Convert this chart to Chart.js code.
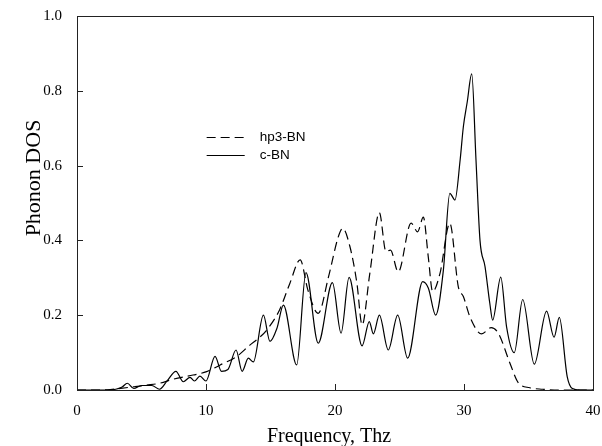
<!DOCTYPE html>
<html>
<head>
<meta charset="utf-8">
<script src="https://cdn.jsdelivr.net/npm/chart.js@4/dist/chart.umd.min.js"></script>
<style>
html,body{margin:0;padding:0;background:#fff;}
#wrap{width:602px;height:446px;position:relative;}
</style>
</head>
<body>
<div id="wrap"><canvas id="c" width="602" height="446"></canvas></div>
<script>
// ---- data ----
const seriesLabels = ["hp3-BN", "c-BN"];
const hpFreq = [0, 2, 3, 4.5, 5.4, 6.4, 7.47, 9.0, 10.05, 11.1, 12.4, 13.4, 14.06, 14.7, 15.7, 16.5, 17.3, 17.9, 18.7, 19.5, 20.26, 20.6, 21.16, 21.7, 22.1, 22.7, 23.44, 23.95, 24.3, 24.9, 25.9, 26.4, 26.85, 27.23, 27.57, 28.14, 28.9, 29.56, 29.95, 30.5, 31.37, 32.1, 32.66, 33.57, 34.2, 35.1, 36.1, 37, 40];
const hpDos  = [0, 0, 0.003, 0.009, 0.013, 0.018, 0.029, 0.04, 0.049, 0.067, 0.09, 0.12, 0.138, 0.16, 0.214, 0.285, 0.348, 0.267, 0.205, 0.303, 0.41, 0.432, 0.383, 0.285, 0.174, 0.312, 0.474, 0.37, 0.374, 0.316, 0.446, 0.423, 0.462, 0.356, 0.263, 0.312, 0.446, 0.276, 0.25, 0.192, 0.15, 0.167, 0.152, 0.071, 0.02, 0.006, 0.002, 0, 0];
const cbnFreq = [0, 2, 3, 3.5, 3.9, 4.4, 5.0, 5.8, 6.4, 7.0, 7.67, 8.24, 8.76, 9.1, 9.53, 10.0, 10.7, 11.2, 11.7, 12.33, 12.8, 13.28, 13.67, 14.45, 14.96, 15.5, 16.0, 17.03, 17.75, 18.7, 19.8, 20.47, 21.09, 22.1, 22.66, 22.97, 23.44, 24.13, 24.86, 25.63, 26.8, 27.24, 27.8, 28.4, 28.9, 29.3, 29.7, 29.95, 30.25, 30.6, 30.93, 31.24, 31.63, 32.0, 32.22, 32.85, 33.3, 33.9, 34.55, 35.45, 36.4, 36.98, 37.39, 38.0, 38.4, 39, 40];
const cbnDos  = [0, 0, 0.002, 0.008, 0.018, 0.004, 0.012, 0.012, 0.002, 0.025, 0.05, 0.022, 0.034, 0.024, 0.037, 0.024, 0.09, 0.05, 0.055, 0.107, 0.05, 0.085, 0.075, 0.2, 0.13, 0.165, 0.227, 0.067, 0.314, 0.125, 0.287, 0.152, 0.301, 0.118, 0.183, 0.15, 0.2, 0.107, 0.2, 0.085, 0.29, 0.272, 0.2, 0.32, 0.526, 0.508, 0.615, 0.704, 0.77, 0.845, 0.615, 0.4, 0.33, 0.232, 0.187, 0.302, 0.169, 0.1, 0.242, 0.069, 0.211, 0.141, 0.194, 0.036, 0.004, 0, 0];
const xTicks = [0, 10, 20, 30, 40];
const yTicks = [0, 0.2, 0.4, 0.6, 0.8, 1.0];
const xTitle = "Frequency, Thz";
const yTitle = "Phonon DOS";

const toPts = (xs, ys) => xs.map((x, i) => ({x: x, y: ys[i]}));

const serif = "'Liberation Serif', 'Times New Roman', serif";
const sans = "'Liberation Sans', Arial, sans-serif";

const framePlugin = {
  id: 'frame',
  afterDraw(chart) {
    const {ctx, chartArea: a, scales} = chart;
    ctx.save();
    ctx.strokeStyle = '#222';
    ctx.lineWidth = 1;
    ctx.setLineDash([]);
    ctx.strokeRect(a.left + 0.5, a.top + 0.5, a.right - a.left, a.bottom - a.top);
    ctx.beginPath();
    xTicks.forEach(v => {
      if (v === 0 || v === 40) return;
      const px = Math.round(scales.x.getPixelForValue(v)) + 0.5;
      ctx.moveTo(px, a.bottom); ctx.lineTo(px, a.bottom - 6);
    });
    yTicks.forEach(v => {
      const py = Math.round(scales.y.getPixelForValue(v)) + 0.5;
      ctx.moveTo(a.left, py); ctx.lineTo(a.left + 6, py);
    });
    ctx.stroke();
    // axis titles
    ctx.fillStyle = '#000';
    ctx.textAlign = 'center';
    ctx.textBaseline = 'middle';
    ctx.font = '20px ' + serif;
    ctx.fillText(xTitle, 329, 437);
    ctx.save();
    ctx.translate(34, 178);
    ctx.rotate(-Math.PI / 2);
    ctx.font = '22px ' + serif;
    ctx.fillText(yTitle, 0, 0);
    ctx.restore();
    // legend
    const items = chart.data.datasets;
    const lx0 = scales.x.getPixelForValue(10.05), lx1 = scales.x.getPixelForValue(13.0);
    const ys = [137, 155];
    ctx.font = '13.5px ' + sans;
    ctx.textAlign = 'left';
    items.forEach((d, i) => {
      ctx.beginPath();
      ctx.lineWidth = 1.2;
      ctx.strokeStyle = '#000';
      ctx.setLineDash(d.borderDash || []);
      ctx.moveTo(lx0, ys[i] + 0.5); ctx.lineTo(lx1, ys[i] + 0.5);
      ctx.stroke();
      ctx.setLineDash([]);
      ctx.fillText(d.label, lx1 + 15, ys[i]);
    });
    ctx.restore();
  }
};

new Chart(document.getElementById('c'), {
  type: 'line',
  data: {
    datasets: [
      {label: seriesLabels[0], data: toPts(hpFreq, hpDos), borderColor: '#000', borderWidth: 1.2, borderDash: [9, 5], pointRadius: 0, fill: false, cubicInterpolationMode: 'monotone'},
      {label: seriesLabels[1], data: toPts(cbnFreq, cbnDos), borderColor: '#000', borderWidth: 1.2, pointRadius: 0, fill: false, cubicInterpolationMode: 'monotone'}
    ]
  },
  options: {
    responsive: false,
    animation: false,
    devicePixelRatio: 1,
    layout: {padding: {left: 0, top: 16, right: 9, bottom: 0}},
    plugins: {legend: {display: false}, tooltip: {enabled: false}},
    scales: {
      x: {
        type: 'linear', min: 0, max: 40,
        afterFit: s => { s.height = 56; s.paddingLeft = 0; s.paddingRight = 0; },
        afterBuildTicks: s => { s.ticks = xTicks.map(v => ({value: v})); },
        grid: {display: false, drawTicks: false, tickLength: 0},
        border: {display: false},
        ticks: {padding: 12, color: '#000', font: {family: serif, size: 15}, maxRotation: 0},
        title: {display: false}
      },
      y: {
        type: 'linear', min: 0, max: 1,
        afterFit: s => { s.width = 77; s.paddingTop = 0; s.paddingBottom = 0; },
        afterBuildTicks: s => { s.ticks = yTicks.map(v => ({value: v})); },
        grid: {display: false, drawTicks: false, tickLength: 0},
        border: {display: false},
        ticks: {padding: 15, color: '#000', font: {family: serif, size: 15}, callback: v => Number(v).toFixed(1)},
        title: {display: false}
      }
    }
  },
  plugins: [framePlugin]
});
</script>
</body>
</html>
